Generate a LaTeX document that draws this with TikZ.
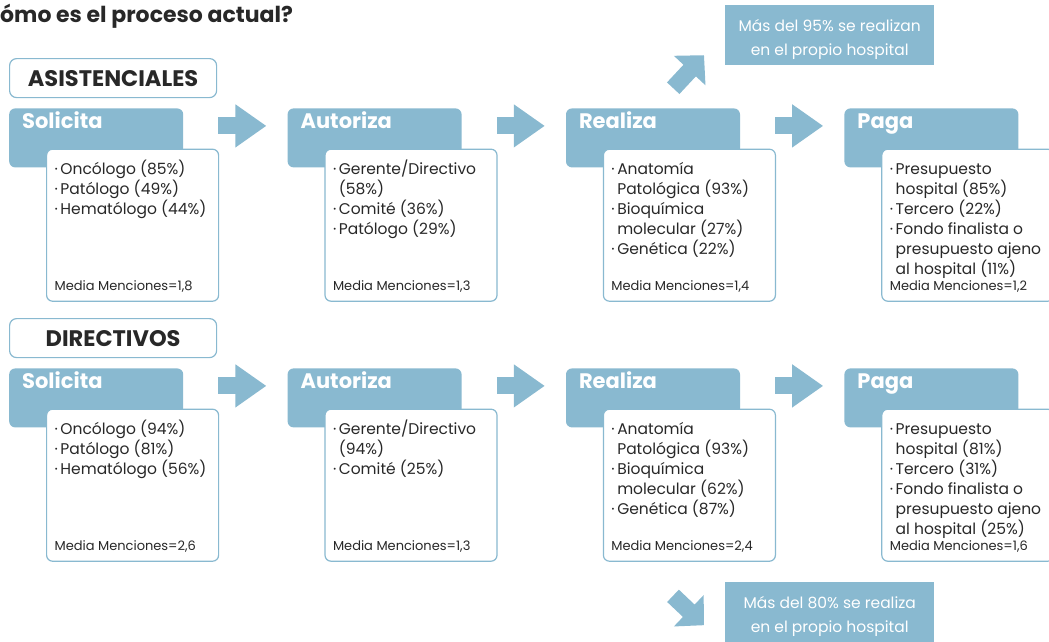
\documentclass[tikz,border=0pt]{standalone}
\usepackage{fontspec}
\setmainfont{Poppins}
\usepackage{tikz}
\usetikzlibrary{positioning, calc}
\usetikzlibrary{arrows.meta}
\definecolor{procblue}{RGB}{137,185,208}
\definecolor{textgray}{RGB}{40,40,40}
\tikzstyle{titletext}=[inner sep=0pt, anchor=base west, text=textgray,
font=\fontsize{22}{26}\selectfont\bfseries]
\tikzstyle{groupbox}=[rectangle, rounded corners=7pt, draw=procblue,
line width=1.2pt, fill=white, anchor=north west, minimum width=207pt,
minimum height=39pt, text=textgray, font=\fontsize{22.5}{26}\selectfont\bfseries]
\tikzstyle{headbox}=[rectangle, rounded corners=6pt, fill=procblue,
anchor=north west, inner xsep=13pt, inner ysep=5pt, text width=148pt,
align=left, text height=15pt, text depth=34pt, text=white,
font=\fontsize{21}{24}\selectfont\bfseries]
\tikzstyle{listbox}=[rectangle, rounded corners=6pt, draw=procblue,
line width=1.2pt, fill=white, inner xsep=8pt, inner ysep=6pt,
text=textgray, font=\fontsize{15.5}{20}\selectfont]
\tikzstyle{notebox}=[rectangle, fill=procblue, anchor=north west,
minimum width=209pt, minimum height=60pt, align=center, text=white,
font=\fontsize{15.5}{24}\selectfont]
\tikzstyle{steparrow}=[draw=procblue, line width=17pt,
-{Triangle[length=31pt, width=41pt]}, shorten <=35pt, shorten >=21pt]
\tikzstyle{notearrow}=[draw=procblue, line width=17pt,
-{Triangle[length=21pt, width=42pt]}]
\def\itemdot{·\,}
\def\itemgap{\phantom{·\,}}
\def\listtext#1#2{\parbox[t][140pt][t]{156pt}{\rule{0pt}{19pt}#1\par\vfill
{\fontsize{13}{15}\selectfont #2\par}\vspace{3pt}}}
\def\notetop{\rule{0pt}{21pt}}

\begin{document}
\begin{tikzpicture}[x=1pt, y=-1pt]
    \useasboundingbox (0,0) rectangle (1049,641);
    \node[titletext] (title) at (0,22) {ómo es el proceso actual?};

    % asistenciales
    \node[groupbox] (asis) at (9,58) {ASISTENCIALES};
    \node[headbox, below right=10pt and 0pt of asis.south west] (sol1) {Solicita};
    \node[headbox, right=104pt of sol1] (aut1) {Autoriza};
    \node[headbox, right=104pt of aut1] (rea1) {Realiza};
    \node[headbox, right=104pt of rea1] (pag1) {Paga};

    \node[listbox, below right=-19pt and 37pt of sol1.south west] (sol1c)
        {\listtext{\itemdot Oncólogo (85\%)\\
        \itemdot Patólogo (49\%)\\
        \itemdot Hematólogo (44\%)}{Media Menciones=1,8}};
    \node[listbox, below right=-19pt and 37pt of aut1.south west] (aut1c)
        {\listtext{\itemdot Gerente/Directivo\\
        \itemgap (58\%)\\
        \itemdot Comité (36\%)\\
        \itemdot Patólogo (29\%)}{Media Menciones=1,3}};
    \node[listbox, below right=-19pt and 37pt of rea1.south west] (rea1c)
        {\listtext{\itemdot Anatomía\\
        \itemgap Patológica (93\%)\\
        \itemdot Bioquímica\\
        \itemgap molecular (27\%)\\
        \itemdot Genética (22\%)}{Media Menciones=1,4}};
    \node[listbox, below right=-19pt and 37pt of pag1.south west] (pag1c)
        {\listtext{\itemdot Presupuesto\\
        \itemgap hospital (85\%)\\
        \itemdot Tercero (22\%)\\
        \itemdot Fondo finalista o\\
        \itemgap presupuesto ajeno\\
        \itemgap al hospital (11\%)}{Media Menciones=1,2}};

    \draw[steparrow] ([yshift=12pt]sol1.east) -- ([yshift=12pt]aut1.west);
    \draw[steparrow] ([yshift=12pt]aut1.east) -- ([yshift=12pt]rea1.west);
    \draw[steparrow] ([yshift=12pt]rea1.east) -- ([yshift=12pt]pag1.west);

    \node[notebox] (note1) at (725,5) {\notetop Más del 95\% se realizan\\en el propio hospital};
    \draw[notearrow] ($(rea1.north east)+(-67,-20)$) -- ($(note1.west)+(-21,20)$);

    % directivos
    \node[groupbox] (dir) at (9,318) {DIRECTIVOS};
    \node[headbox, below right=10pt and 0pt of dir.south west] (sol2) {Solicita};
    \node[headbox, right=104pt of sol2] (aut2) {Autoriza};
    \node[headbox, right=104pt of aut2] (rea2) {Realiza};
    \node[headbox, right=104pt of rea2] (pag2) {Paga};

    \node[listbox, below right=-19pt and 37pt of sol2.south west] (sol2c)
        {\listtext{\itemdot Oncólogo (94\%)\\
        \itemdot Patólogo (81\%)\\
        \itemdot Hematólogo (56\%)}{Media Menciones=2,6}};
    \node[listbox, below right=-19pt and 37pt of aut2.south west] (aut2c)
        {\listtext{\itemdot Gerente/Directivo\\
        \itemgap (94\%)\\
        \itemdot Comité (25\%)}{Media Menciones=1,3}};
    \node[listbox, below right=-19pt and 37pt of rea2.south west] (rea2c)
        {\listtext{\itemdot Anatomía\\
        \itemgap Patológica (93\%)\\
        \itemdot Bioquímica\\
        \itemgap molecular (62\%)\\
        \itemdot Genética (87\%)}{Media Menciones=2,4}};
    \node[listbox, below right=-19pt and 37pt of pag2.south west] (pag2c)
        {\listtext{\itemdot Presupuesto\\
        \itemgap hospital (81\%)\\
        \itemdot Tercero (31\%)\\
        \itemdot Fondo finalista o\\
        \itemgap presupuesto ajeno\\
        \itemgap al hospital (25\%)}{Media Menciones=1,6}};

    \draw[steparrow] ([yshift=12pt]sol2.east) -- ([yshift=12pt]aut2.west);
    \draw[steparrow] ([yshift=12pt]aut2.east) -- ([yshift=12pt]rea2.west);
    \draw[steparrow] ([yshift=12pt]rea2.east) -- ([yshift=12pt]pag2.west);

    \node[notebox] (note2) at (725,582) {\notetop Más del 80\% se realiza\\en el propio hospital};
    \draw[notearrow] ($(rea2c.south east)+(-103,34)$) -- ($(note2.west)+(-21,13)$);
\end{tikzpicture}
\end{document}
